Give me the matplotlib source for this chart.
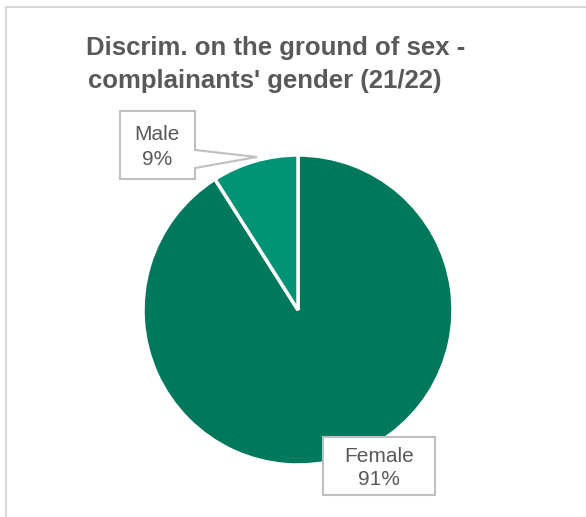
import matplotlib
matplotlib.use("Agg")
import matplotlib.pyplot as plt
from matplotlib.patches import Polygon, Rectangle
from matplotlib.lines import Line2D

categories = ["Female", "Male"]
shares = [91, 9]
colors = ["#00785C", "#009474"]
title_lines = ["Discrim. on the ground of sex -", "complainants' gender (21/22)"]

W, H = 586, 517
fig = plt.figure(figsize=(W / 100, H / 100), dpi=100)
ax = fig.add_axes([0, 0, 1, 1])
ax.set_xlim(0, W)
ax.set_ylim(0, H)
ax.set_aspect("equal")
ax.axis("off")

def py(y):
    # pixel row (from top) -> data y
    return H - y

text_color = "#595959"
box_color = "#BFBFBF"
font = "Liberation Sans"

# chart frame (top and left edges)
ax.add_line(Line2D([6, W], [py(7), py(7)], color="#D9D9D9", lw=1.5))
ax.add_line(Line2D([6, 6], [py(7), 0], color="#D9D9D9", lw=1.5))

for line, cx, base in zip(title_lines, [276, 265], [55, 88]):
    ax.text(cx, py(base), line, ha="center", va="baseline", fontsize=18.5,
            fontweight="bold", color=text_color, family=font)

wedges, _ = ax.pie(shares, colors=colors, startangle=90, counterclock=False,
                   center=(298, py(310)), radius=155,
                   wedgeprops=dict(edgecolor="white", linewidth=2.5))
ax.set_xlim(0, W)
ax.set_ylim(0, H)

def label(cx, base1, base2, name, value):
    ax.text(cx, py(base1), name, ha="center", va="baseline", fontsize=15,
            color=text_color, family=font, zorder=6)
    ax.text(cx, py(base2), f"{value}%", ha="center", va="baseline", fontsize=15,
            color=text_color, family=font, zorder=6)

# Male callout with pointer
callout = [(120, 111), (195, 111), (195, 150), (257, 157), (195, 168),
           (195, 179), (120, 179)]
ax.add_patch(Polygon([(x, py(y)) for x, y in callout], closed=True,
                     facecolor="white", edgecolor=box_color, lw=1.5, zorder=5))
label(157, 140, 165, categories[1], shares[1])

# Female label box
ax.add_patch(Rectangle((323, py(495)), 112, 58, facecolor="white",
                       edgecolor=box_color, lw=1.5, zorder=5))
label(379, 462, 485, categories[0], shares[0])

fig.savefig("out.png", dpi=100)
